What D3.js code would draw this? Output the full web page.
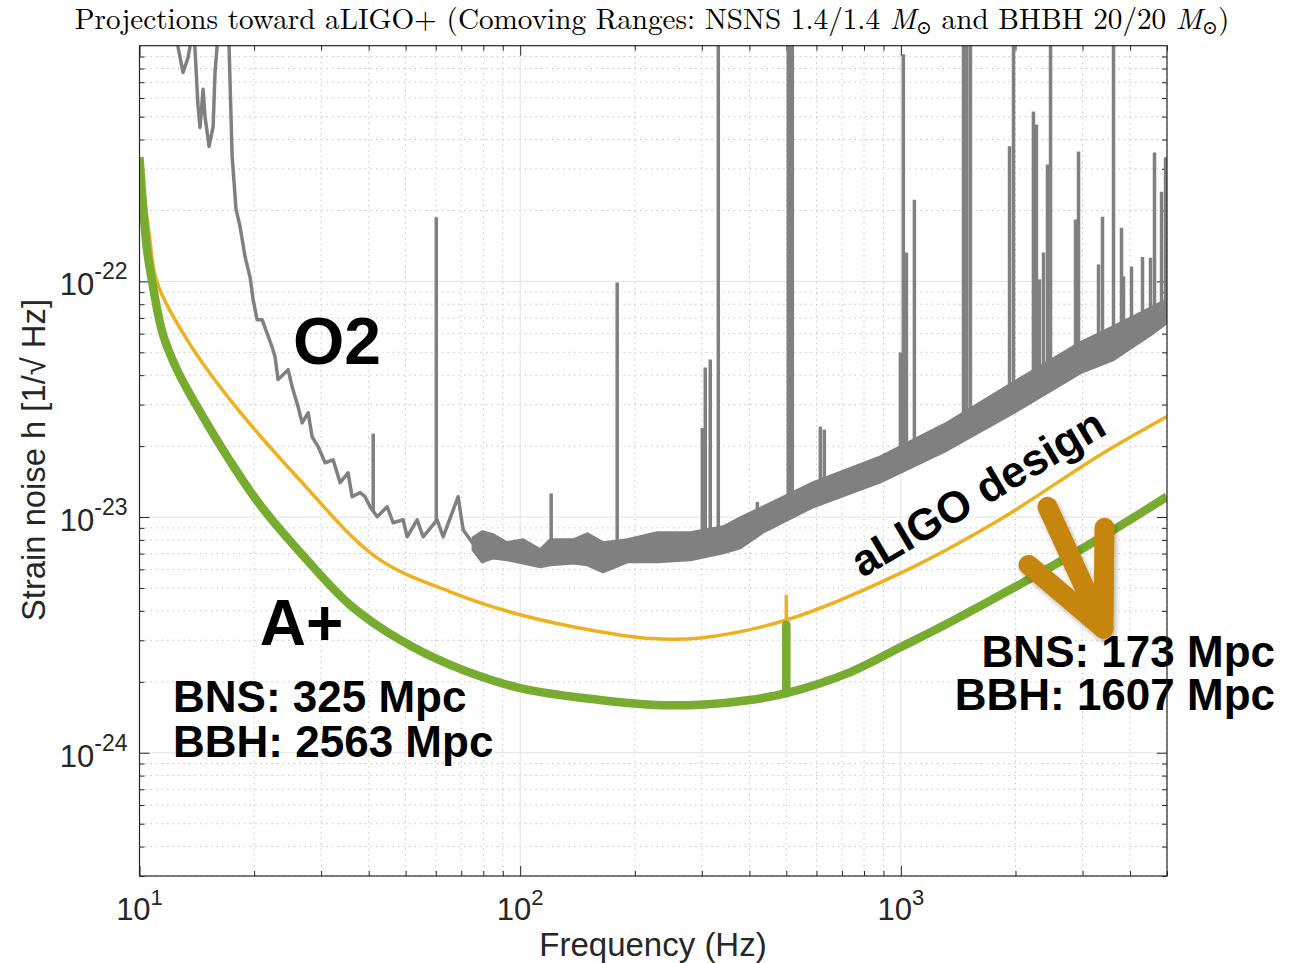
<!DOCTYPE html>
<html>
<head>
<meta charset="utf-8">
<script src="https://cdn.jsdelivr.net/npm/d3@7"></script>
<style>
  body { margin: 0; background: #fff; }
  text { font-family: "Liberation Sans", Arial, Helvetica, sans-serif; }
</style>
</head>
<body>
<svg id="chart" width="1296" height="963"></svg>
<script>
// values: [frequency Hz, strain 1/sqrt(Hz)]
var aPlus = [[10, 3.36e-22], [10.46, 1.37e-22], [10.79, 1.0e-22], [11.53, 5.94e-23], [12.55, 4.22e-23],
    [14.42, 2.8e-23], [17.29, 1.73e-23], [20.73, 1.127e-23], [27.23, 6.71e-24], [35.74, 4.24e-24],
    [48.4, 3.01e-24], [65.5, 2.36e-24], [100, 1.88e-24], [162, 1.675e-24], [220, 1.6e-24],
    [297, 1.6e-24], [402, 1.675e-24], [500, 1.79e-24], [737, 2.2e-24], [1000, 2.81e-24],
    [1349, 3.59e-24], [2229, 5.58e-24], [3344, 8.17e-24], [5000, 1.22e-23]];

var aLigo = [[10, 3.3e-22], [10.6, 1.6e-22], [11.1, 1.0e-22], [13.33, 5.66e-23], [17.29, 3.15e-23],
    [25.94, 1.48e-23], [42.1, 6.71e-24], [65.5, 4.82e-24], [100, 3.85e-24], [162, 3.26e-24],
    [220, 3.05e-24], [297, 3.07e-24], [500, 3.66e-24], [1000, 5.8e-24], [1826, 9.8e-24],
    [3344, 1.84e-23], [5000, 2.67e-23]];

// calibration line at 500 Hz: [freq, peak]
var aPlusLines = [[500, 3.49e-24]];
var aLigoLines = [[500, 4.68e-24]];

// O2 low frequency part (single trace)
var o2Line = [[12.3, 1.3e-21], [12.62, 9.9e-22], [13.01, 7.7e-22], [13.41, 8.9e-22], [13.57, 9.9e-22],
    [13.7, 1.3e-21], [13.85, 1.3e-21], [14.25, 5.53e-22], [14.42, 4.5e-22], [14.69, 6.53e-22],
    [14.86, 5.01e-22], [15.23, 3.74e-22], [15.61, 4.54e-22], [15.79, 7.7e-22], [15.99, 9.9e-22],
    [16.1, 1.3e-21], [17.0, 1.3e-21], [17.19, 9.9e-22], [17.51, 3.4e-22], [17.93, 2.02e-22],
    [18.37, 1.71e-22], [18.94, 1.27e-22], [19.52, 1.04e-22], [19.88, 8.37e-23], [20.37, 6.88e-23],
    [20.99, 6.88e-23], [22.29, 5.28e-23], [22.7, 4.79e-23], [23.12, 3.83e-23], [24.57, 4.22e-23],
    [25.17, 3.57e-23], [26.1, 2.94e-23], [26.74, 2.51e-23], [27.73, 2.77e-23], [28.41, 2.19e-23],
    [29.46, 1.99e-23], [30.73, 1.70e-23], [32.25, 1.75e-23], [33.65, 1.40e-23], [35.31, 1.54e-23],
    [36.18, 1.22e-23], [37.97, 1.27e-23], [39.13, 1.22e-23], [40.35, 1.106e-23], [42.1, 1.003e-23],
    [44.72, 1.106e-23], [46.37, 9.46e-24], [49.26, 9.74e-24], [50.47, 8.25e-24], [53.61, 9.74e-24],
    [55.6, 8.25e-24], [60.5, 9.74e-24], [62.74, 8.25e-24], [68.7, 1.22e-23], [70.8, 8.83e-24],
    [75.2, 7.7e-24]];

// O2 noisy band above ~75 Hz
var o2BandFreq  = [75.2, 79.45, 84.9, 92.4, 101.8, 112.9, 119.9, 137.9, 150.1, 165.2, 191.1, 229.1,
    279.8, 341.7, 378.6, 435.2, 588.8, 883.5, 1325, 1976, 2963, 3618, 4609, 5000];
var o2BandUpper = [8.17e-24, 8.66e-24, 8.41e-24, 7.78e-24, 8.01e-24, 7.26e-24, 8.01e-24, 8.01e-24,
    8.49e-24, 7.78e-24, 8.01e-24, 8.58e-24, 8.58e-24, 9.09e-24, 9.93e-24, 1.106e-23, 1.40e-23,
    1.80e-23, 2.51e-23, 3.72e-23, 5.50e-23, 6.43e-23, 7.81e-23, 8.37e-23];
var o2BandLower = [7.26e-24, 6.46e-24, 6.71e-24, 6.59e-24, 6.39e-24, 6.15e-24, 6.27e-24, 6.39e-24,
    6.27e-24, 5.86e-24, 6.46e-24, 6.46e-24, 6.59e-24, 7.05e-24, 7.41e-24, 8.66e-24, 1.106e-23,
    1.41e-23, 1.93e-23, 2.77e-23, 4.10e-23, 4.66e-23, 6.06e-23, 6.68e-23];

// O2 spectral lines: [freq, peak]
var o2Lines = [[41.1, 2.26e-23], [60.2, 1.87e-22], [120.6, 1.26e-23], [179.8, 9.9e-23], [300.8, 2.39e-23],
    [306.3, 4.31e-23], [315.7, 4.66e-23], [331.4, 1.3e-21], [419.7, 1.16e-23], [506, 1.3e-21],
    [512, 1.3e-21], [518.6, 1.3e-21], [614.3, 2.42e-23], [629.3, 2.35e-23], [997, 4.99e-23],
    [1015, 9.2e-22], [1034, 1.325e-22], [1085, 2.22e-22], [1460, 1.3e-21], [1490, 1.3e-21],
    [1523, 1.3e-21], [1929, 3.74e-22], [1976, 1.3e-21], [2229, 5.26e-22], [2270, 4.63e-22],
    [2312, 1.02e-22], [2369, 1.325e-22], [2427, 3.13e-22], [2472, 1.3e-21], [2875, 1.83e-22],
    [2928, 3.56e-22], [3304, 1.18e-22], [3385, 1.88e-22], [3618, 1.3e-21], [3797, 1.69e-22],
    [3844, 1.05e-22], [4034, 1.155e-22], [4312, 1.27e-22], [4525, 1.26e-22], [4636, 3.52e-22],
    [4837, 2.40e-22], [4956, 3.36e-22]];

var xMajor = [10, 100, 1000];
var xMajorExp = ["1", "2", "3"];
var yMajor = [1e-24, 1e-23, 1e-22];
var yMajorExp = ["-24", "-23", "-22"];

var leftRanges = ["BNS: 325 Mpc", "BBH: 2563 Mpc"];
var rightRanges = ["BNS: 173 Mpc", "BBH: 1607 Mpc"];

var green = "#77ac30", yellow = "#edb120", grey = "#808080", brown = "#c6860a";

// plot box (pixels)
var pL = 139.5, pR = 1167, pT = 45.7, pB = 876;
var x = d3.scaleLog().domain([10, 5000]).range([pL, pR]);
var y = d3.scaleLog().domain([3e-25, 1e-21]).range([pB, pT]);

var svg = d3.select("#chart");
var defs = svg.append("defs");
defs.append("clipPath").attr("id", "clip")
    .append("rect").attr("x", pL).attr("y", pT).attr("width", pR - pL).attr("height", pB - pT);
defs.append("filter").attr("id", "shadow").attr("x", "-30%").attr("y", "-30%").attr("width", "160%").attr("height", "160%")
    .append("feDropShadow").attr("dx", 2).attr("dy", 3).attr("stdDeviation", 2.5)
    .attr("flood-color", "#000").attr("flood-opacity", 0.3);

// grid
var isMajor = function (v) { return Math.abs(Math.log10(v) - Math.round(Math.log10(v))) < 1e-6; };
var xMinor = x.ticks().filter(function (v) { return !isMajor(v); });
var yMinor = y.ticks().filter(function (v) { return !isMajor(v); });

var grid = svg.append("g");
grid.selectAll(".gx").data(xMinor).enter().append("line")
    .attr("x1", x).attr("x2", x).attr("y1", pT).attr("y2", pB)
    .attr("stroke", "#c4c4c4").attr("stroke-dasharray", "1.5,4");
grid.selectAll(".gy").data(yMinor).enter().append("line")
    .attr("y1", y).attr("y2", y).attr("x1", pL).attr("x2", pR)
    .attr("stroke", "#c4c4c4").attr("stroke-dasharray", "1.5,4");
grid.selectAll(".gX").data(xMajor.slice(1)).enter().append("line")
    .attr("x1", x).attr("x2", x).attr("y1", pT).attr("y2", pB)
    .attr("stroke", "#e2e2e2");
grid.selectAll(".gY").data(yMajor).enter().append("line")
    .attr("y1", y).attr("y2", y).attr("x1", pL).attr("x2", pR)
    .attr("stroke", "#e2e2e2");

// axes ticks, pointing inward on all four sides
function ticks(axis, vals, size, tr) {
    var g = svg.append("g").attr("transform", tr)
        .call(axis.tickValues(vals).tickSize(size).tickFormat(""));
    g.select(".domain").remove();
    g.selectAll("line").attr("stroke", "#262626");
}
ticks(d3.axisBottom(x), xMajor, -10, "translate(0," + pB + ")");
ticks(d3.axisBottom(x), xMinor, -5, "translate(0," + pB + ")");
ticks(d3.axisTop(x), xMajor, -10, "translate(0," + pT + ")");
ticks(d3.axisTop(x), xMinor, -5, "translate(0," + pT + ")");
ticks(d3.axisLeft(y), yMajor, -10, "translate(" + pL + ",0)");
ticks(d3.axisLeft(y), yMinor, -5, "translate(" + pL + ",0)");
ticks(d3.axisRight(y), yMajor, -10, "translate(" + pR + ",0)");
ticks(d3.axisRight(y), yMinor, -5, "translate(" + pR + ",0)");

// tick labels
var xl = svg.append("g").selectAll("text").data(xMajor).enter().append("text")
    .attr("x", x).attr("y", 920).attr("text-anchor", "middle").attr("font-size", 31).attr("fill", "#262626");
xl.append("tspan").text("10");
xl.append("tspan").attr("dy", -15).attr("font-size", 22).text(function (d, i) { return xMajorExp[i]; });

var yl = svg.append("g").selectAll("text").data(yMajor).enter().append("text")
    .attr("x", pL - 12).attr("y", function (d) { return y(d) + 14; })
    .attr("text-anchor", "end").attr("font-size", 31).attr("fill", "#262626");
yl.append("tspan").text("10");
yl.append("tspan").attr("dy", -16).attr("font-size", 23).text(function (d, i) { return yMajorExp[i]; });

// axis labels
svg.append("text").attr("x", 653).attr("y", 956).attr("text-anchor", "middle")
    .attr("font-size", 33).attr("fill", "#262626").text("Frequency (Hz)");
svg.append("text").attr("transform", "translate(45,460) rotate(-90)").attr("text-anchor", "middle")
    .attr("font-size", 33).attr("textLength", 322).attr("lengthAdjust", "spacingAndGlyphs")
    .attr("fill", "#262626").text("Strain noise h [1/\u221A Hz]");

// curves
var plot = svg.append("g").attr("clip-path", "url(#clip)");
var line = d3.line().x(function (d) { return x(d[0]); }).y(function (d) { return y(d[1]); });
var smooth = d3.line().x(function (d) { return x(d[0]); }).y(function (d) { return y(d[1]); })
    .curve(d3.curveCatmullRom.alpha(0.5));

// interpolate a curve in log-log space
function curveAt(pts) {
    var s = d3.scaleLog().domain(pts.map(function (d) { return d[0]; }))
        .range(pts.map(function (d) { return Math.log10(d[1]); }));
    return function (f) { return Math.pow(10, s(f)); };
}

// O2
var o2Band = o2BandFreq.map(function (f, i) { return [f, o2BandUpper[i], o2BandLower[i]]; });
var o2Floor = curveAt(o2Line.concat(o2Band.slice(1).map(function (d) { return [d[0], d[2]]; })));

plot.append("path").datum(o2Line).attr("d", line)
    .attr("fill", "none").attr("stroke", grey).attr("stroke-width", 3.5).attr("stroke-linejoin", "round");
plot.append("path").datum(o2Band)
    .attr("d", d3.area().x(function (d) { return x(d[0]); })
        .y0(function (d) { return y(d[2]); }).y1(function (d) { return y(d[1]); }))
    .attr("fill", grey).attr("stroke", grey).attr("stroke-width", 3).attr("stroke-linejoin", "round");
plot.selectAll(".o2l").data(o2Lines).enter().append("line")
    .attr("x1", function (d) { return x(d[0]); }).attr("x2", function (d) { return x(d[0]); })
    .attr("y1", function (d) { return y(o2Floor(d[0])); }).attr("y2", function (d) { return y(d[1]); })
    .attr("stroke", grey).attr("stroke-width", 3.5);

// aLIGO design
var ligoAt = curveAt(aLigo);
plot.append("path").datum(aLigo).attr("d", smooth)
    .attr("fill", "none").attr("stroke", yellow).attr("stroke-width", 3.5);
plot.selectAll(".ligol").data(aLigoLines).enter().append("line")
    .attr("x1", function (d) { return x(d[0]); }).attr("x2", function (d) { return x(d[0]); })
    .attr("y1", function (d) { return y(ligoAt(d[0])); }).attr("y2", function (d) { return y(d[1]); })
    .attr("stroke", yellow).attr("stroke-width", 3.5);

// A+
var aPlusAt = curveAt(aPlus);
plot.append("path").datum(aPlus).attr("d", smooth)
    .attr("fill", "none").attr("stroke", green).attr("stroke-width", 8.5);
plot.selectAll(".apl").data(aPlusLines).enter().append("line")
    .attr("x1", function (d) { return x(d[0]); }).attr("x2", function (d) { return x(d[0]); })
    .attr("y1", function (d) { return y(aPlusAt(d[0])); }).attr("y2", function (d) { return y(d[1]); })
    .attr("stroke", green).attr("stroke-width", 8.5).attr("stroke-linecap", "round");

// labels
var lab = svg.append("g").attr("font-weight", "bold").attr("fill", "#000");
lab.append("text").attr("x", x(25.3)).attr("y", y(4.48e-23)).attr("font-size", 66).text("O2");
lab.append("text").attr("x", x(20.7)).attr("y", y(2.87e-24)).attr("font-size", 64).text("A+");
lab.selectAll(".lr").data(leftRanges).enter().append("text")
    .attr("x", x(12.25)).attr("y", function (d, i) { return y([1.49e-24, 9.6e-25][i]); })
    .attr("font-size", 44).text(function (d) { return d; });
lab.selectAll(".rr").data(rightRanges).enter().append("text")
    .attr("x", 1275).attr("y", function (d, i) { return y([2.31e-24, 1.52e-24][i]); })
    .attr("text-anchor", "end").attr("font-size", 44).text(function (d) { return d; });
lab.append("text").attr("transform", "translate(" + x(1667) + "," + y(1.117e-23) + ") rotate(-30.5)")
    .attr("text-anchor", "middle").attr("font-size", 44).text("aLIGO design");

// arrow
var arrowShaft = [[2427, 1.106e-23], [3405, 3.36e-24]];
var arrowHead = [[2163, 6.27e-24], [3405, 3.36e-24], [3426, 9.0e-24]];
var ar = svg.append("g").attr("filter", "url(#shadow)").attr("fill", "none").attr("stroke", brown)
    .attr("stroke-width", 20).attr("stroke-linecap", "round").attr("stroke-linejoin", "round");
ar.append("path").datum(arrowShaft).attr("d", line);
ar.append("path").datum(arrowHead).attr("d", line);

// frame
svg.append("rect").attr("x", pL).attr("y", pT).attr("width", pR - pL).attr("height", pB - pT)
    .attr("fill", "none").attr("stroke", "#262626").attr("stroke-width", 1.2);

// title
var title = svg.append("text").attr("x", 652).attr("y", 29).attr("text-anchor", "middle")
    .attr("font-size", 25).attr("fill", "#000")
    .style("font-family", "'Latin Modern Roman', 'CMU Serif', 'Liberation Serif', 'DejaVu Serif', serif");
title.append("tspan").text("Projections toward aLIGO+ (Comoving Ranges: NSNS 1.4/1.4 ");
title.append("tspan").attr("font-style", "italic").text("M");
title.append("tspan").attr("font-size", "65%").attr("dy", 5).text("\u2299");
title.append("tspan").attr("dy", -5).text(" and BHBH 20/20 ");
title.append("tspan").attr("font-style", "italic").text("M");
title.append("tspan").attr("font-size", "65%").attr("dy", 5).text("\u2299");
title.append("tspan").attr("dy", -5).text(")");
var tw = title.node().getComputedTextLength();
title.attr("font-size", 25 * 1155 / tw);
</script>
</body>
</html>
